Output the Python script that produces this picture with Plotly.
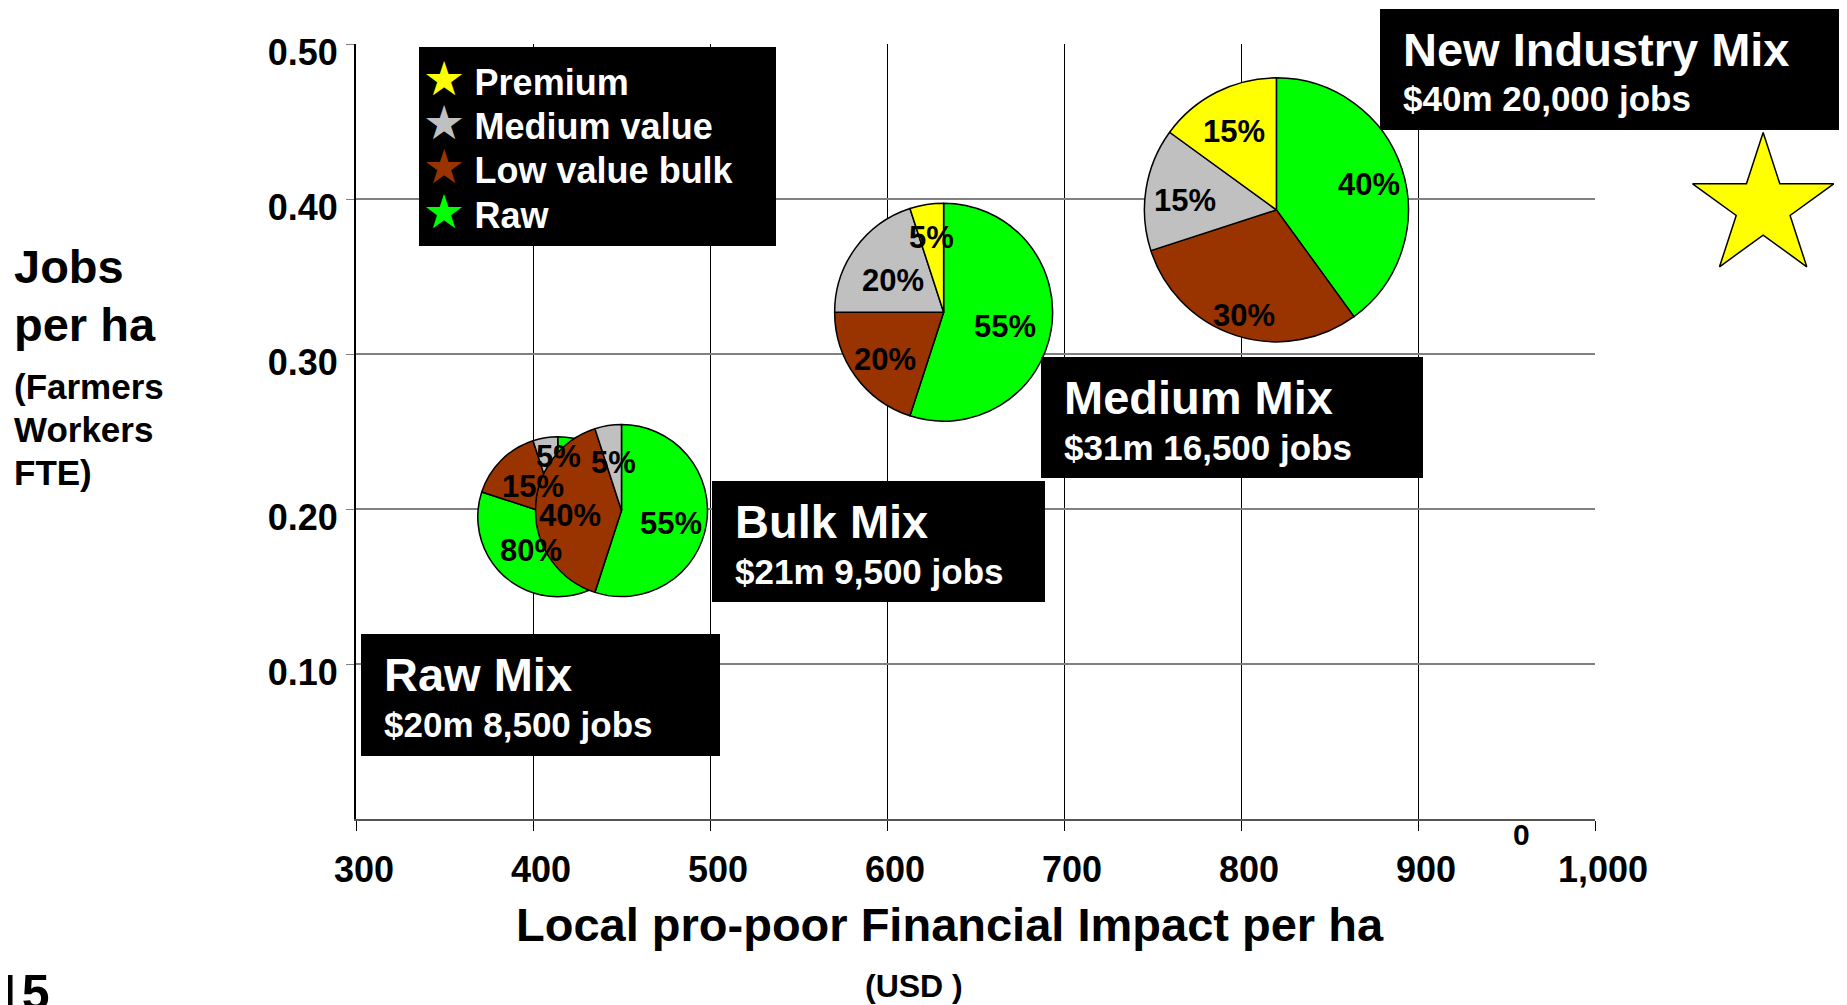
import math
import plotly.graph_objects as go

# categories, in legend order
categories = ["Premium", "Medium value", "Low value bulk", "Raw"]
cat_colors = ["#FFFF00", "#C0C0C0", "#993300", "#00FF00"]

# the four mixes
mix_names = ["Raw Mix", "Bulk Mix", "Medium Mix", "New Industry Mix"]
mix_value = ["$20m", "$21m", "$31m", "$40m"]
mix_jobs = ["8,500", "9,500", "16,500", "20,000"]
impact_per_ha = [414, 450, 632, 820]
jobs_per_ha = [0.195, 0.199, 0.327, 0.393]

# share of each category in each mix (%)
premium_pct = [0, 0, 5, 15]
medium_pct = [5, 5, 20, 15]
low_bulk_pct = [15, 40, 20, 30]
raw_pct = [80, 55, 55, 40]

# big yellow star (new industry target)
target_x = [1095]
target_y = [0.395]

x_ticks = [300, 400, 500, 600, 700, 800, 900, 1000]
y_ticks = [0.10, 0.20, 0.30, 0.40, 0.50]

# ---- layout constants (screen pixels) ----
W, H = 1847, 1005
OFF = 8                      # default body margin of the html page
L, R, T, B = 356, 1595, 44, 819   # frame of the axes
R2 = 1840                    # right edge of the plotting area (holds the star)
X_RANGE = [300, 1000]
Y_RANGE = [0, 0.5]
pie_radius_px = [80, 86, 109, 132]
# where the % labels sit, as share of the radius (slice order raw, low, medium, premium)
label_radius = [None, [0.58, 0.6, 0.62], [0.57, 0.66, 0.57, 0.74], [0.74, 0.8, 0.7, 0.71]]
FONT = "Liberation Sans, Arial, sans-serif"
# raw mix labels sit where the bulk pie does not cover them (offsets from centre)
raw_label_offsets = {"Raw": (-27, 34), "Low value bulk": (-25, -30), "Medium value": (1, -60)}


def data_px_x(v):
    return L + (v - X_RANGE[0]) / (X_RANGE[1] - X_RANGE[0]) * (R - L)


def data_px_y(v):
    return B - (v - Y_RANGE[0]) / (Y_RANGE[1] - Y_RANGE[0]) * (B - T)


def px_x(p):
    return (p - L) / (R2 - L)


def px_y(p):
    return (B - p) / (B - T)


fig = go.Figure()

# empty trace so the main axes are drawn
fig.add_trace(go.Scatter(x=[], y=[], mode="markers", showlegend=False, hoverinfo="skip"))

# target star, on a hidden axis pair that reaches to the right edge
fig.add_trace(go.Scatter(
    x=target_x, y=target_y, mode="markers", xaxis="x2", yaxis="y2",
    marker=dict(symbol="star", size=106, color="#FFFF00",
                line=dict(color="black", width=1.5)),
    hoverinfo="skip", showlegend=False))

annotations = []
label_font = dict(family=FONT, size=31, color="black", weight="bold")

# pies, drawn clockwise from 12 o'clock: Raw, Low value bulk, Medium value, Premium
for i in range(len(mix_names)):
    vals = [raw_pct[i], low_bulk_pct[i], medium_pct[i], premium_pct[i]]
    labs = [categories[3], categories[2], categories[1], categories[0]]
    cols = [cat_colors[3], cat_colors[2], cat_colors[1], cat_colors[0]]
    keep = [k for k in range(4) if vals[k] > 0]
    r = pie_radius_px[i]
    cx, cy = data_px_x(impact_per_ha[i]), data_px_y(jobs_per_ha[i])
    fig.add_trace(go.Pie(
        values=[vals[k] for k in keep],
        labels=[labs[k] for k in keep],
        marker=dict(colors=[cols[k] for k in keep],
                    line=dict(color="black", width=1.5)),
        sort=False, direction="clockwise", rotation=0,
        textinfo="none", textposition="none",
        domain=dict(x=[px_x(cx - r), px_x(cx + r)], y=[px_y(cy + r), px_y(cy - r)]),
        hoverinfo="skip", showlegend=False, name=mix_names[i]))

    # percentage labels, placed along the middle of each slice
    tot = sum(vals)
    start = 0
    for k in keep:
        share = vals[k] / tot
        if i == 0:
            ox, oy = raw_label_offsets[labs[k]]
        else:
            mid = math.radians((start + share / 2) * 360)
            f = label_radius[i][k]
            ox, oy = f * r * math.sin(mid), -f * r * math.cos(mid) + 5
        start += share
        annotations.append(dict(x=px_x(cx + ox), y=px_y(cy + oy),
                                text=f"{round(share * 100)}%", font=label_font))

shapes = []

# mix label boxes
boxes = [(361, 634, 720, 756), (712, 481, 1045, 602),
         (1041, 357, 1423, 478), (1380, 9, 1860, 130)]
for i, (x0, y0, x1, y1) in enumerate(boxes):
    shapes.append(dict(type="rect", xref="paper", yref="paper", layer="above",
                       x0=px_x(x0), x1=px_x(x1), y0=px_y(y1), y1=px_y(y0),
                       fillcolor="black", line=dict(width=0)))
    annotations.append(dict(
        x=px_x(x0 + 21), y=px_y(y0 + 40), xanchor="left", text=mix_names[i],
        font=dict(family=FONT, size=47, color="white", weight="bold")))
    annotations.append(dict(
        x=px_x(x0 + 21), y=px_y(y0 + 90), xanchor="left",
        text=f"{mix_value[i]} {mix_jobs[i]} jobs",
        font=dict(family=FONT, size=35, color="white", weight="bold")))

# legend box: one text block, a coloured star in front of each name
shapes.append(dict(type="rect", xref="paper", yref="paper", layer="above",
                   x0=px_x(419), x1=px_x(776), y0=px_y(246), y1=px_y(47),
                   fillcolor="black", line=dict(width=0)))
legend_lines = [
    f"<span style='font-family:DejaVu Sans;font-size:47px;color:{cat_colors[k]}'>★</span>"
    f" <span style='font-size:36px'>{categories[k]}</span>"
    for k in range(4)
]
annotations.append(dict(
    x=px_x(421), y=px_y(145), xanchor="left", align="left",
    text="<br>".join(legend_lines),
    font=dict(family=FONT, size=34, color="white", weight="bold")))

# axis titles and loose labels
annotations += [
    dict(x=px_x(950), y=px_y(924), text="Local pro-poor Financial Impact per ha",
         font=dict(family=FONT, size=47, color="black", weight="bold")),
    dict(x=px_x(914), y=px_y(986), text="(USD )",
         font=dict(family=FONT, size=32, color="black", weight="bold")),
    dict(x=px_x(1521), y=px_y(834), text="0",
         font=dict(family=FONT, size=30, color="black", weight="bold")),
]
for txt, yy, sz in [("Jobs", 266, 47), ("per ha", 324, 47),
                    ("(Farmers", 386, 35), ("Workers", 429, 35), ("FTE)", 473, 35)]:
    annotations.append(dict(
        x=px_x(12), y=px_y(yy), text=txt, xanchor="left",
        font=dict(family=FONT, size=sz, color="black", weight="bold")))
annotations.append(dict(
    x=px_x(-8), y=px_y(993), text="15", xanchor="left",
    font=dict(family=FONT, size=50, color="black", weight="bold")))

for a in annotations:
    a.setdefault("xref", "paper")
    a.setdefault("yref", "paper")
    a.setdefault("showarrow", False)
    a.setdefault("xanchor", "center")
    a.setdefault("yanchor", "middle")

x_frac = px_x(R)
fig.update_layout(
    width=W - OFF, height=H - OFF, autosize=False,
    margin=dict(l=L - OFF, r=W - R2, t=T - OFF, b=H - B, pad=0),
    paper_bgcolor="white", plot_bgcolor="rgba(0,0,0,0)",
    font=dict(family=FONT, color="black"),
    shapes=shapes, annotations=annotations,
    xaxis=dict(domain=[0, x_frac], anchor="y", range=X_RANGE, tickvals=x_ticks,
               tickformat=",", showgrid=True, gridcolor="black", gridwidth=1,
               showline=True, linecolor="#555555", linewidth=2, ticks="outside",
               ticklen=10, tickcolor="black", ticklabelstandoff=8, ticklabelshift=8,
               zeroline=False, automargin=False, fixedrange=True,
               tickfont=dict(family=FONT, size=36, color="black", weight="bold")),
    yaxis=dict(domain=[0, 1], anchor="x", range=Y_RANGE, tickvals=y_ticks,
               tickformat=".2f", showgrid=True, gridcolor="#808080", gridwidth=1.5,
               showline=True, linecolor="black", linewidth=2, ticks="outside",
               ticklen=8, tickcolor="#808080", ticklabelstandoff=1, ticklabelshift=8,
               zeroline=False, automargin=False, fixedrange=True,
               tickfont=dict(family=FONT, size=36, color="black", weight="bold")),
    xaxis2=dict(domain=[0, 1], anchor="y2", visible=False, fixedrange=True,
                range=[X_RANGE[0], X_RANGE[0] + (X_RANGE[1] - X_RANGE[0]) / x_frac]),
    yaxis2=dict(domain=[0, 1], anchor="x2", visible=False, fixedrange=True,
                range=Y_RANGE),
)

fig.write_html("out.html")
